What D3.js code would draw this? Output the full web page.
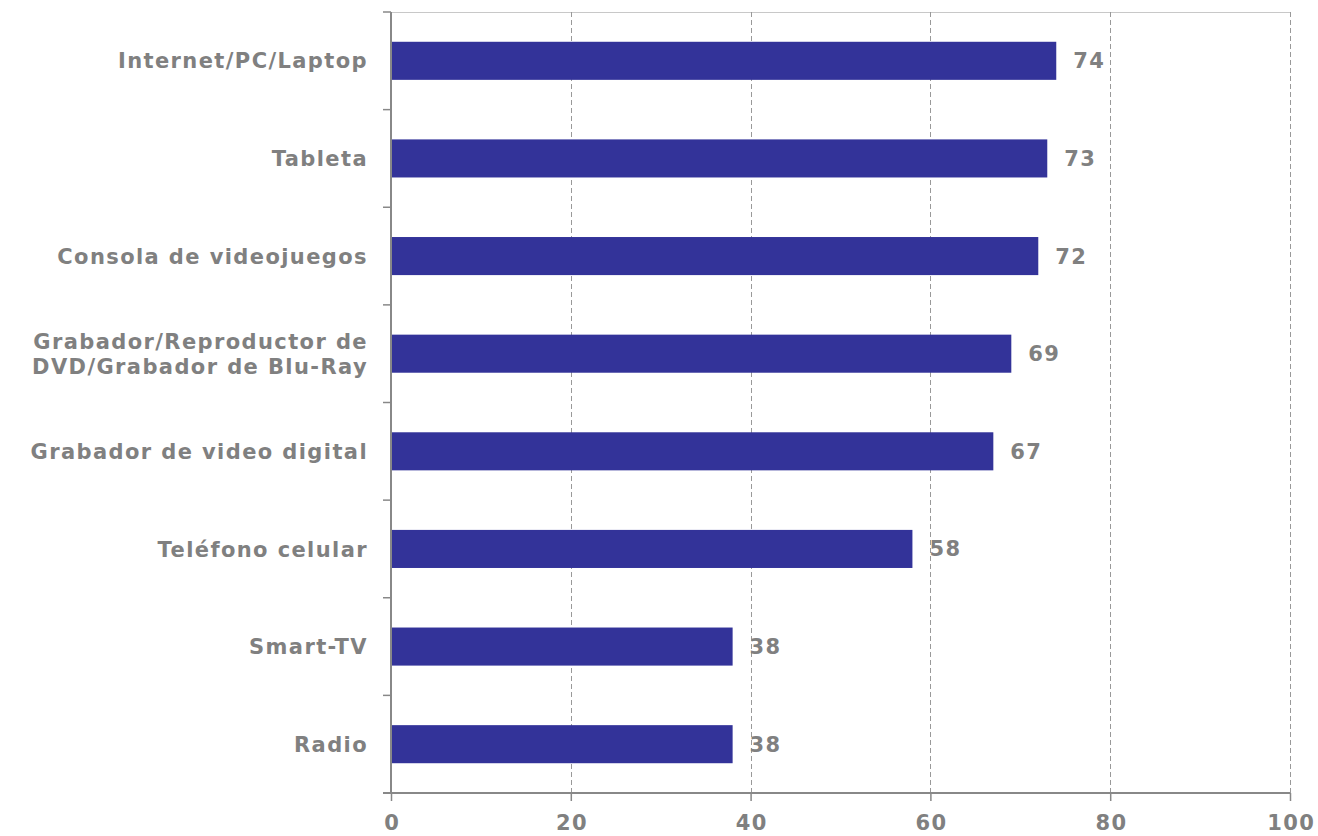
<!DOCTYPE html>
<html><head><meta charset="utf-8">
<script src="https://cdn.jsdelivr.net/npm/d3@7"></script>
<style>body{margin:0;background:#fff}</style>
</head><body>
<svg id="c" width="1318" height="836"></svg>
<script>
const categories = ["Internet/PC/Laptop","Tableta","Consola de videojuegos","Grabador/Reproductor de\nDVD/Grabador de Blu-Ray","Grabador de video digital","Teléfono celular","Smart-TV","Radio"];
const values = [74,73,72,69,67,58,38,38];
const xTicks = [0,20,40,60,80,100];

const svg = d3.select("#c");
const L = 391, R = 1290, T = 12, B = 793;
const font = "'DejaVu Sans', Verdana, sans-serif";
const gray = "#808080";
const ls = "1.4px";
const x = d3.scaleLinear().domain([0,100]).range([L,R]);
const y = d3.scaleBand().domain(categories).range([T,B]).paddingInner(0.61).paddingOuter(0.305);

// top border
svg.append("line").attr("x1",L).attr("x2",R).attr("y1",T+0.5).attr("y2",T+0.5).attr("stroke","#c8c8c8").attr("stroke-width",1);

// grid
svg.append("g").selectAll("line").data(xTicks.filter(d=>d>0)).join("line")
  .attr("x1",d=>Math.round(x(d))+0.5).attr("x2",d=>Math.round(x(d))+0.5)
  .attr("y1",T).attr("y2",B)
  .attr("stroke","#999").attr("stroke-width",1).attr("stroke-dasharray","5,3");

// bars
svg.append("g").selectAll("rect").data(values).join("rect")
  .attr("x",x(0)).attr("y",(d,i)=>y(categories[i]))
  .attr("width",d=>x(d)-x(0)).attr("height",y.bandwidth())
  .attr("fill","#333399");

// value labels
svg.append("g").selectAll("text").data(values).join("text")
  .attr("x",d=>x(d)+17).attr("y",(d,i)=>y(categories[i])+y.bandwidth()/2)
  .attr("dy","0.36em")
  .attr("font-family",font).attr("font-weight","bold").attr("font-size",21).attr("fill",gray)
  .attr("letter-spacing",ls)
  .text(d=>d);

// bottom axis
const xa = svg.append("g").attr("transform",`translate(0,${B})`)
  .call(d3.axisBottom(x).tickValues(xTicks).tickSize(8).tickSizeOuter(0).tickPadding(14));
xa.select(".domain").attr("stroke","#888").attr("stroke-width",2).attr("d",`M${L-8},0H${R}`);
xa.selectAll(".tick line").attr("stroke","#888").attr("stroke-width",1.5);
xa.selectAll(".tick text").attr("font-family",font).attr("font-weight","bold").attr("font-size",21).attr("fill",gray)
  .attr("letter-spacing",ls).attr("dx","0.7px");

// left axis
const bounds = d3.range(categories.length+1).map(i=>T + i*(B-T)/categories.length);
svg.append("line").attr("x1",L).attr("x2",L).attr("y1",T).attr("y2",B).attr("stroke","#888").attr("stroke-width",2);
svg.append("g").selectAll("line").data(bounds).join("line")
  .attr("x1",L-8).attr("x2",L).attr("y1",d=>d).attr("y2",d=>d)
  .attr("stroke","#888").attr("stroke-width",1.5);

// category labels
const lab = svg.append("g").selectAll("text").data(categories).join("text")
  .attr("text-anchor","end")
  .attr("font-family",font).attr("font-weight","bold").attr("font-size",21).attr("fill",gray)
  .attr("letter-spacing",ls)
  .attr("transform",d=>`translate(${L-23},${y(d)+y.bandwidth()/2})`);
lab.each(function(d){
  const lines = d.split("\n");
  const t = d3.select(this);
  lines.forEach((ln,i)=>{
    t.append("tspan").attr("x",0).attr("y",(i-(lines.length-1)/2)*25).attr("dy","0.36em").text(ln);
  });
});
</script>
</body></html>
